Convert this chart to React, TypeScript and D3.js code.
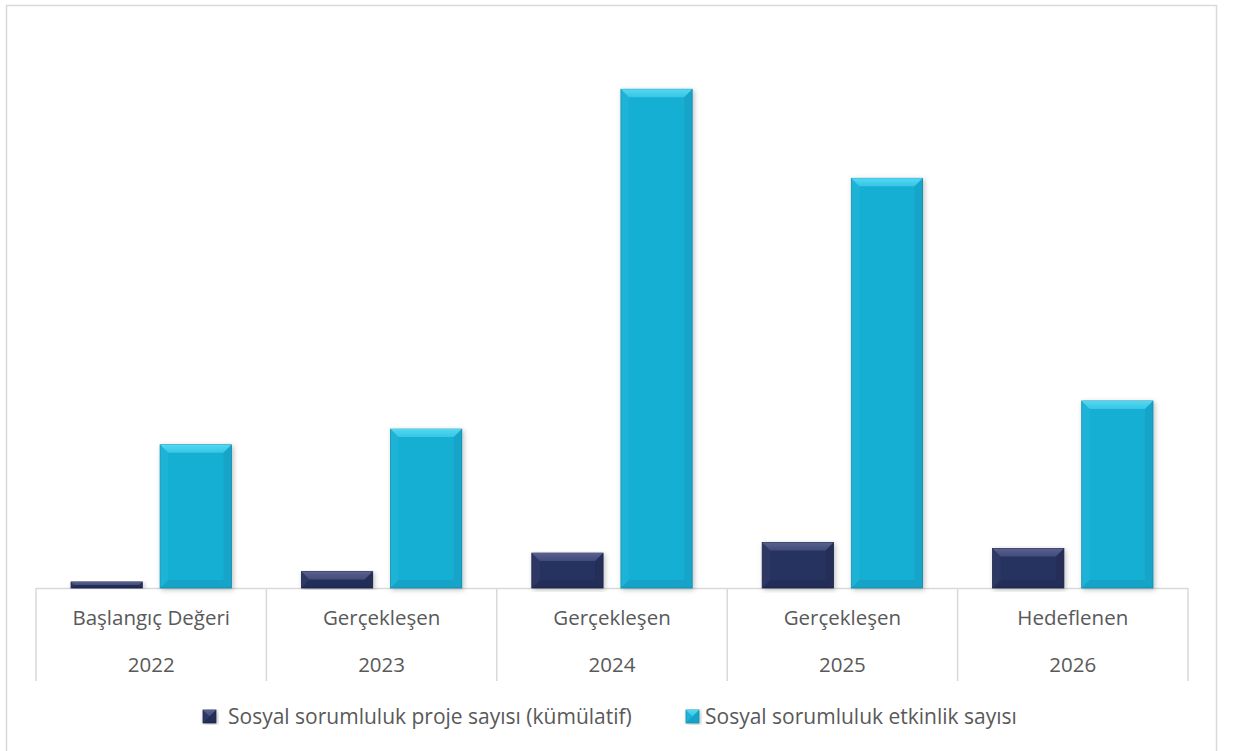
import React from "react";
import * as d3 from "d3";

const categories = ["Başlangıç Değeri", "Gerçekleşen", "Gerçekleşen", "Gerçekleşen", "Hedeflenen"];
const years = ["2022", "2023", "2024", "2025", "2026"];
const seriesNames = ["Sosyal sorumluluk proje sayısı (kümülatif)", "Sosyal sorumluluk etkinlik sayısı"];
const projeValues = [1.7, 4.6, 9.8, 12.8, 11.1];
const etkinlikValues = [40.2, 44.6, 140, 115, 52.5];

const W = 1233, H = 751;
const plotLeft = 36, plotRight = 1188, baseY = 588, topY = 18;
const colors = [
  { main: "#283360", light: "#58608f", dark: "#1a2245", edge: "#3b4573" },
  { main: "#16AFD4", light: "#52d8f2", dark: "#0f89a8", edge: "#1390b0" },
];

function BevelBar({ x, y, w, h, c, id }: { x: number; y: number; w: number; h: number; c: typeof colors[0]; id: string }) {
  const b = Math.min(8, h / 2, w / 2);
  return (
    <g filter="url(#shadow)">
      <rect x={x} y={y} width={w} height={h} fill={c.main} stroke={c.dark} strokeWidth={0.8} />
      <polygon points={`${x},${y} ${x + w},${y} ${x + w - b},${y + b} ${x + b},${y + b}`} fill={`url(#top${id})`} />
      <polygon points={`${x},${y + h} ${x + w},${y + h} ${x + w - b},${y + h - b} ${x + b},${y + h - b}`} fill={c.dark} opacity={0.3} />
      <polygon points={`${x},${y} ${x + b},${y + b} ${x + b},${y + h - b} ${x},${y + h}`} fill={c.light} opacity={0.12} />
      <polygon points={`${x + w},${y} ${x + w - b},${y + b} ${x + w - b},${y + h - b} ${x + w},${y + h}`} fill={c.dark} opacity={0.25} />
    </g>
  );
}

export default function App() {
  const x0 = d3.scaleBand<number>().domain(d3.range(categories.length)).range([plotLeft, plotRight]).padding(0);
  const bw = x0.bandwidth();
  const x1 = d3.scaleBand<number>().domain([0, 1]).range([35, bw - 35]).paddingInner(0.2).paddingOuter(0);
  const y = d3.scaleLinear().domain([0, 160]).range([baseY, topY]);
  const data = [projeValues, etkinlikValues];
  const font = "'Open Sans', sans-serif";
  const grid = "#d9d9d9";
  const fs = 20.5;

  return (
    <svg width={W} height={H} style={{ position: "absolute", left: 0, top: 0 }}>
      <defs>
        <filter id="shadow" x="-20%" y="-5%" width="140%" height="115%">
          <feDropShadow dx="1.5" dy="1.5" stdDeviation="2.5" floodColor="#000" floodOpacity="0.25" />
        </filter>
        {colors.map((c, i) => (
          <linearGradient key={i} id={`top${i}`} x1="0" y1="0" x2="0" y2="1">
            <stop offset="0" stopColor={c.light} stopOpacity={1} />
            <stop offset="1" stopColor={c.light} stopOpacity={0.55} />
          </linearGradient>
        ))}
      </defs>
      <rect x={0} y={0} width={W} height={H} fill="#fff" />
      <rect x={6.5} y={5.5} width={1210} height={760} fill="none" stroke={grid} strokeWidth={1.5} />
      <line x1={plotLeft} x2={plotRight} y1={baseY + 0.5} y2={baseY + 0.5} stroke={grid} strokeWidth={1.5} />
      {d3.range(categories.length + 1).map((i) => {
        const xx = i < categories.length ? x0(i)! : plotRight;
        return <line key={i} x1={xx} x2={xx} y1={baseY} y2={681} stroke={grid} strokeWidth={1.5} />;
      })}
      {data.map((vals, si) =>
        vals.map((v, i) => {
          const bx = x0(i)! + x1(si)!;
          const by = y(v);
          return <BevelBar key={`${si}-${i}`} id={String(si)} x={bx} y={by} w={x1.bandwidth()} h={baseY - by} c={colors[si]} />;
        })
      )}
      {categories.map((c, i) => (
        <g key={i} fontFamily={font} fontSize={fs} fill="#595959" textAnchor="middle">
          <text x={x0(i)! + bw / 2} y={625}>{c}</text>
          <text x={x0(i)! + bw / 2} y={672}>{years[i]}</text>
        </g>
      ))}
      {seriesNames.map((s, i) => {
        const lx = i === 0 ? 203 : 686;
        const tx = i === 0 ? 228 : 705;
        return (
          <g key={i}>
            <BevelBar id={String(i)} x={lx} y={710} w={13} h={13} c={colors[i]} />
            <text x={tx} y={724} fontFamily={font} fontSize={21} fill="#595959">{s}</text>
          </g>
        );
      })}
    </svg>
  );
}
